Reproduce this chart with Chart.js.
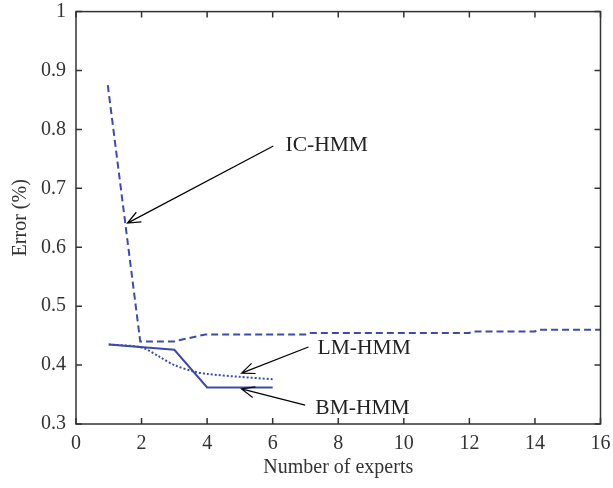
<!DOCTYPE html>
<html>
<head>
<meta charset="utf-8">
<script src="https://cdn.jsdelivr.net/npm/chart.js@4"></script>
<style>
  body { margin: 0; background: #fff; }
  canvas { display: block; }
</style>
</head>
<body>
<canvas id="chart" width="613" height="488"></canvas>
<script>
// values
const xTicks = [0, 2, 4, 6, 8, 10, 12, 14, 16];
const yTicks = [0.3, 0.4, 0.5, 0.6, 0.7, 0.8, 0.9, 1];

const icX = [0.97, 1.96, 2.97, 3.95, 7, 7.1, 12, 12.1, 14, 14.1, 16];
const icY = [0.875, 0.44, 0.44, 0.452, 0.452, 0.4545, 0.4545, 0.457, 0.457, 0.46, 0.46];

const lmX = [1, 2, 2.55, 3, 3.6, 4, 5, 6];
const lmY = [0.435, 0.43, 0.414, 0.4, 0.389, 0.385, 0.38, 0.376];

const bmX = [1, 3, 4, 6];
const bmY = [0.435, 0.426, 0.362, 0.362];

// arrow labels: text, arrow tip, arrow tail, text anchor (data units)
const labels = [
  { text: 'IC-HMM', tip: [1.57, 0.641], tail: [6.02, 0.772], at: [6.39, 0.7735] },
  { text: 'LM-HMM', tip: [5.05, 0.3864], tail: [7.09, 0.4306], at: [7.37, 0.4289] },
  { text: 'BM-HMM', tip: [5.05, 0.3595], tail: [6.99, 0.332], at: [7.3, 0.327] }
];

const lineColor = '#3c4cab';
const axisColor = '#333';
const serif = "'Liberation Serif', 'DejaVu Serif', serif";

const toPoints = (xs, ys) => xs.map((x, i) => ({ x: x, y: ys[i] }));

// box around the plot with inward tick marks on all four sides
const framePlugin = {
  id: 'frame',
  afterDatasetsDraw(chart) {
    const { ctx, chartArea: a, scales } = chart;
    const len = 6;
    ctx.save();
    ctx.strokeStyle = axisColor;
    ctx.lineWidth = 1.5;
    ctx.strokeRect(a.left, a.top, a.right - a.left, a.bottom - a.top);
    ctx.beginPath();
    xTicks.forEach(v => {
      const px = scales.x.getPixelForValue(v);
      ctx.moveTo(px, a.bottom); ctx.lineTo(px, a.bottom - len);
      ctx.moveTo(px, a.top); ctx.lineTo(px, a.top + len);
    });
    yTicks.forEach(v => {
      const py = scales.y.getPixelForValue(v);
      ctx.moveTo(a.left, py); ctx.lineTo(a.left + len, py);
      ctx.moveTo(a.right, py); ctx.lineTo(a.right - len, py);
    });
    ctx.stroke();
    ctx.restore();
  }
};

// arrows pointing at the curves with their names
const arrowPlugin = {
  id: 'arrows',
  afterDatasetsDraw(chart) {
    const { ctx, scales } = chart;
    const px = p => [scales.x.getPixelForValue(p[0]), scales.y.getPixelForValue(p[1])];
    ctx.save();
    ctx.strokeStyle = '#000';
    ctx.lineWidth = 1.2;
    labels.forEach(l => {
      const [tx, ty] = px(l.tip);
      const [sx, sy] = px(l.tail);
      const ang = Math.atan2(sy - ty, sx - tx);
      const head = 14, spread = 0.4;
      ctx.beginPath();
      ctx.moveTo(sx, sy); ctx.lineTo(tx, ty);
      ctx.moveTo(tx + head * Math.cos(ang - spread), ty + head * Math.sin(ang - spread));
      ctx.lineTo(tx, ty);
      ctx.lineTo(tx + head * Math.cos(ang + spread), ty + head * Math.sin(ang + spread));
      ctx.stroke();
      const [lx, ly] = px(l.at);
      ctx.fillStyle = '#222';
      ctx.font = '21.5px ' + serif;
      ctx.textAlign = 'left';
      ctx.textBaseline = 'middle';
      ctx.fillText(l.text, lx, ly);
    });
    ctx.restore();
  }
};

new Chart(document.getElementById('chart'), {
  type: 'line',
  data: {
    datasets: [
      { label: 'IC-HMM', data: toPoints(icX, icY), borderColor: lineColor, borderWidth: 2, borderDash: [7, 4], pointRadius: 0, fill: false, tension: 0 },
      { label: 'LM-HMM', data: toPoints(lmX, lmY), borderColor: lineColor, borderWidth: 2, borderDash: [2, 2], pointRadius: 0, fill: false, tension: 0.3 },
      { label: 'BM-HMM', data: toPoints(bmX, bmY), borderColor: lineColor, borderWidth: 2, pointRadius: 0, fill: false, tension: 0 }
    ]
  },
  options: {
    responsive: false,
    animation: false,
    devicePixelRatio: 1,
    layout: { padding: { top: 11.6, right: 12.5, left: 0, bottom: 0 } },
    plugins: { legend: { display: false }, tooltip: { enabled: false } },
    scales: {
      x: {
        type: 'linear',
        min: 0,
        max: 16,
        afterFit(scale) { scale.height = 64; scale.paddingLeft = 0; scale.paddingRight = 0; },
        afterBuildTicks(scale) { scale.ticks = xTicks.map(v => ({ value: v })); },
        ticks: { color: axisColor, padding: 8, font: { family: serif, size: 20 } },
        grid: { display: false, drawTicks: false },
        border: { display: false },
        title: { display: true, text: 'Number of experts', color: axisColor, font: { family: serif, size: 20 }, padding: { top: 0, bottom: 8 } }
      },
      y: {
        type: 'linear',
        min: 0.3,
        max: 1,
        afterFit(scale) { scale.width = 76; scale.paddingTop = 0; scale.paddingBottom = 0; },
        afterBuildTicks(scale) { scale.ticks = yTicks.map(v => ({ value: v })); },
        ticks: { color: axisColor, padding: 10, font: { family: serif, size: 20 }, callback: v => String(Number(v.toFixed(1))) },
        grid: { display: false, drawTicks: false },
        border: { display: false },
        title: { display: true, text: 'Error (%)', color: axisColor, font: { family: serif, size: 20 }, padding: { top: 9, bottom: 0 } }
      }
    }
  },
  plugins: [framePlugin, arrowPlugin]
});
</script>
</body>
</html>
